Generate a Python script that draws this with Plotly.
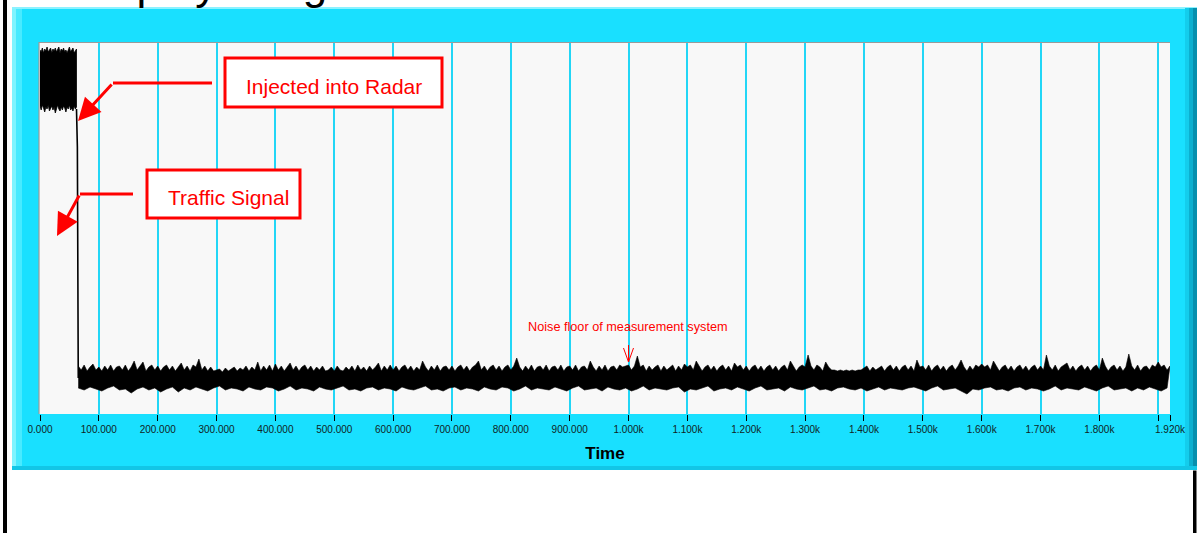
import numpy as np
import plotly.graph_objects as go

# ---------------- data ----------------
# Injected signal (time 0..62, step 2): upper / lower envelope of the burst
INJ_T_START, INJ_T_STEP = 0, 2
INJ_UPPER = [364, 362, 366, 361, 365, 363, 367, 362, 364, 366, 361, 365, 363, 366, 362, 364,
             367, 361, 365, 363, 366, 362, 364, 361, 365, 367, 362, 364, 366, 361, 363, 365]
INJ_LOWER = [308, 304, 309, 306, 302, 307, 305, 309, 303, 306, 308, 304, 307, 301, 306, 309,
             305, 303, 307, 304, 308, 306, 302, 307, 305, 309, 304, 306, 303, 308, 305, 307]

# Drop from injected level to the noise floor
TRANS_T = [62, 63.5, 65]
TRANS_Y = [305, 267, 36]

# Noise floor upper envelope (time 65..1920, step 5)
NOISE_UP_START, NOISE_UP_STEP = 65, 5
NOISE_UPPER = [
    48, 44, 49, 43, 47, 50, 44,
    47, 43, 48, 44, 49, 43, 47, 48, 44, 49, 43, 47, 53, 44, 48, 52, 43, 47, 49, 44,
    48, 43, 47, 49, 44, 48, 43, 47, 51, 44, 48, 43, 49, 47, 55, 44, 48, 43, 47, 43,
    44, 45, 42, 46, 43, 45, 47, 43, 46, 44, 48, 43, 47, 44, 52, 43, 48, 44, 49, 43,
    50, 44, 48, 43, 47, 51, 44, 48, 43, 47, 49, 44, 48, 43, 47, 44, 48, 43, 44, 47,
    43, 48, 44, 43, 47, 44, 48, 43, 49, 44, 47, 43, 48, 44, 47, 51, 43, 48, 44, 49,
    44, 48, 43, 47, 49, 44, 48, 43, 47, 44, 53, 47, 43, 48, 44, 49, 43, 47, 48, 44,
    48, 43, 47, 49, 44, 48, 43, 47, 49, 53, 44, 48, 43, 47, 49, 44, 48, 43, 47, 49,
    44, 48, 56, 47, 43, 48, 44, 49, 43, 47, 48, 44, 49, 43, 47, 48, 44, 49, 43, 47,
    48, 44, 49, 43, 47, 48, 44, 53, 47, 43, 48, 44, 49, 43, 47, 48, 44, 49, 47, 48,
    49, 44, 48, 58, 47, 49, 43, 48, 44, 47, 49, 43, 48, 44, 47, 49, 43, 48, 44, 50,
    47, 49, 44, 53, 48, 43, 47, 49, 44, 48, 43, 47, 49, 44, 48, 43, 51, 47, 49, 44,
    48, 43, 47, 49, 44, 48, 43, 47, 49, 44, 48, 43, 47, 49, 44, 53, 48, 43, 47, 49,
    47, 59, 48, 44, 49, 47, 43, 52, 47, 44, 44, 43, 44, 43, 44, 43, 44, 43, 44, 44,
    46, 48, 43, 47, 44, 46, 48, 43, 47, 49, 44, 48, 43, 47, 49, 44, 48, 43, 54, 47,
    48, 44, 49, 43, 47, 49, 44, 48, 43, 47, 49, 44, 48, 54, 47, 43, 48, 44, 49, 47,
    50, 47, 49, 44, 53, 48, 43, 47, 49, 44, 48, 43, 47, 49, 44, 48, 43, 47, 49, 44,
    48, 44, 59, 48, 44, 49, 43, 47, 49, 51, 44, 48, 43, 47, 49, 44, 48, 43, 47, 49,
    44, 56, 48, 43, 47, 49, 44, 48, 43, 47, 60, 48, 44, 49, 43, 47, 48, 44, 49, 47,
    52, 47, 49, 44, 48,
]

# Noise floor lower envelope (time 65..1915, step 10)
NOISE_LO_START, NOISE_LO_STEP = 65, 10
NOISE_LOWER = [
    26, 24, 27, 25, 23, 26, 28, 24, 25, 21,
    25, 27, 24, 26, 22, 25, 27, 22, 26, 24,
    27, 25, 23, 26, 28, 24, 26, 25, 23, 27,
    25, 24, 27, 26, 23, 25, 28, 24, 26, 25,
    23, 27, 25, 24, 26, 28, 24, 25, 23, 26,
    27, 24, 26, 25, 23, 27, 25, 24, 26, 28,
    24, 25, 23, 26, 27, 24, 26, 25, 23, 27,
    25, 24, 27, 26, 23, 25, 28, 24, 26, 25,
    24, 27, 25, 23, 26, 28, 24, 25, 26, 23,
    27, 25, 24, 26, 23, 25, 28, 24, 26, 25,
    24, 26, 27, 22, 25, 24, 26, 28, 23, 25,
    26, 24, 27, 25, 23, 26, 28, 24, 25, 26,
    23, 27, 25, 24, 26, 28, 24, 25, 23, 26,
    27, 25, 24, 26, 23, 25, 27, 24, 26, 25,
    24, 26, 27, 25, 23, 26, 28, 24, 25, 26,
    23, 20, 25, 24, 26, 27, 24, 25, 23, 26,
    27, 24, 26, 25, 23, 25, 28, 24, 26, 25,
    24, 27, 25, 23, 26, 28, 24, 25, 26, 23,
    26, 24, 27, 25, 23, 26,
]

X_MAX = 1920
Y_MAX = 371
GRID_TICKS = [100, 200, 300, 400, 500, 600, 700, 800, 900, 1000, 1100, 1200, 1300,
              1400, 1500, 1600, 1700, 1800, 1900]
GRID_LABELS = ["100.000", "200.000", "300.000", "400.000", "500.000", "600.000", "700.000",
               "800.000", "900.000", "1.000k", "1.100k", "1.200k", "1.300k", "1.400k",
               "1.500k", "1.600k", "1.700k", "1.800k", ""]
EDGE_TICKS = [0, 1920]
EDGE_LABELS = ["0.000", "1.920k"]

# ---------------- build ----------------
inj_t = INJ_T_START + INJ_T_STEP * np.arange(len(INJ_UPPER))
up_t = NOISE_UP_START + NOISE_UP_STEP * np.arange(len(NOISE_UPPER))
lo_t = NOISE_LO_START + NOISE_LO_STEP * np.arange(len(NOISE_LOWER))

W, H = 1197, 533
PL, PR, PT, PB = 40, 1170, 43, 414


def fx(px):
    return (px - PL) / (PR - PL)


def fy(py):
    return (PB - py) / (PB - PT)


fig = go.Figure()
fig.add_trace(go.Scatter(
    x=np.concatenate([inj_t, inj_t[::-1]]),
    y=np.concatenate([INJ_UPPER, INJ_LOWER[::-1]]),
    fill="toself", fillcolor="black", mode="lines",
    line=dict(color="black", width=0.8), showlegend=False, hoverinfo="skip"))
fig.add_trace(go.Scatter(
    x=TRANS_T, y=TRANS_Y, mode="lines",
    line=dict(color="black", width=1.6), showlegend=False, hoverinfo="skip"))
fig.add_trace(go.Scatter(
    x=np.concatenate([up_t, lo_t[::-1]]),
    y=np.concatenate([NOISE_UPPER, NOISE_LOWER[::-1]]),
    fill="toself", fillcolor="black", mode="lines",
    line=dict(color="black", width=0.6), showlegend=False, hoverinfo="skip"))
# invisible trace to activate second x axis (edge ticks)
fig.add_trace(go.Scatter(x=[0], y=[0], xaxis="x2", mode="markers",
                         marker=dict(opacity=0), showlegend=False, hoverinfo="skip"))

shapes = []


def rect(x0, y0, x1, y1, color, layer="below"):
    shapes.append(dict(type="rect", xref="paper", yref="paper", layer=layer,
                       x0=fx(x0), x1=fx(x1), y0=fy(y1), y1=fy(y0), fillcolor=color,
                       line=dict(width=0)))


# cyan frame
rect(12, 8, 1197, 470, "#19E0FF")
rect(12, 8, 16, 470, "#80F4FF")
rect(16, 8, 22, 470, "#48EAFF")
rect(12, 7, 1197, 9, "#8CF2FF")
rect(1185, 8, 1189, 470, "#14CDEC")
rect(1189, 8, 1193, 470, "#0CAFCF")
rect(1193, 8, 1197, 470, "#078FAD")
rect(12, 466, 1197, 470, "#12C6E6")
# plot area background
rect(39, 42, 1170, 414, "#F8F8F8")
shapes.append(dict(type="path", xref="paper", yref="paper", layer="below",
                   path=f"M {fx(39)},{fy(414)} L {fx(39)},{fy(42.5)} L {fx(1170)},{fy(42.5)}",
                   line=dict(color="#9A9A9A", width=1.2)))
# black page borders
rect(3, 0, 7, 533, "black", "above")
rect(1193, 470.5, 1196.5, 533, "black", "above")

RED = "#FF0000"
# callout boxes
for (x0, y0, x1, y1) in [(225, 58, 442, 107), (147, 170, 300, 218)]:
    shapes.append(dict(type="rect", xref="paper", yref="paper", layer="above",
                       x0=fx(x0), x1=fx(x1), y0=fy(y1), y1=fy(y0),
                       fillcolor="white", line=dict(color=RED, width=3)))
# horizontal arrow legs
for (x0, x1, yy) in [(212, 113, 83), (133, 80, 194)]:
    shapes.append(dict(type="line", xref="paper", yref="paper", layer="above",
                       x0=fx(x0), x1=fx(x1), y0=fy(yy), y1=fy(yy),
                       line=dict(color=RED, width=3)))
# noise-floor arrow (thin shaft with open V head)
shapes.append(dict(type="line", xref="paper", yref="paper", layer="above",
                   x0=fx(628.5), x1=fx(628.5), y0=fy(345), y1=fy(362),
                   line=dict(color=RED, width=1)))
shapes.append(dict(type="path", xref="paper", yref="paper", layer="above",
                   path=f"M {fx(623.5)},{fy(348)} L {fx(628.5)},{fy(362)} L {fx(633.5)},{fy(348)}",
                   line=dict(color=RED, width=1)))

annotations = []
FONT = "Arial, Liberation Sans, sans-serif"
annotations.append(dict(xref="paper", yref="paper", x=fx(334), y=fy(87), xanchor="center",
                        yanchor="middle", text="Injected into Radar", showarrow=False,
                        font=dict(family=FONT, size=21, color=RED)))
annotations.append(dict(xref="paper", yref="paper", x=fx(228), y=fy(198), xanchor="center",
                        yanchor="middle", text="Traffic Signal", showarrow=False,
                        font=dict(family=FONT, size=21, color=RED)))
annotations.append(dict(xref="paper", yref="paper", x=fx(628), y=fy(327), xanchor="center",
                        yanchor="middle", text="Noise floor of measurement system",
                        showarrow=False, font=dict(family=FONT, size=12.7, color=RED)))
# diagonal arrow legs with heads
for (tx, ty, ax, ay) in [(78, 121, 35, -38), (57, 236, 23, -42)]:
    annotations.append(dict(xref="paper", yref="paper", x=fx(tx), y=fy(ty), text="",
                            showarrow=True, ax=ax, ay=ay, arrowhead=2, arrowsize=1.5,
                            arrowwidth=3, arrowcolor=RED, standoff=0, startstandoff=0))
# partially visible page title above the frame (only descenders show)
annotations.append(dict(xref="paper", yref="paper", x=fx(71), y=fy(10), xanchor="left",
                        yanchor="bottom", text="Display Image", showarrow=False,
                        font=dict(family=FONT, size=44, color="black")))

fig.update_layout(
    width=W, height=H,
    margin=dict(l=PL, r=W - PR, t=PT, b=H - PB, pad=0),
    paper_bgcolor="white", plot_bgcolor="rgba(0,0,0,0)",
    shapes=shapes, annotations=annotations,
    xaxis=dict(range=[0, X_MAX], tickvals=GRID_TICKS, ticktext=GRID_LABELS,
               showgrid=True, gridcolor="#22D6F6", gridwidth=1.6, zeroline=False,
               showline=False, ticks="outside", ticklen=6, tickcolor="black", tickwidth=1,
               tickfont=dict(family=FONT, size=10, color="#102424"),
               title=dict(text="<b>Time</b>", font=dict(family=FONT, size=17, color="black"),
                          standoff=13),
               fixedrange=True),
    xaxis2=dict(range=[0, X_MAX], overlaying="x", side="bottom", tickvals=EDGE_TICKS,
                ticktext=EDGE_LABELS, showgrid=False, zeroline=False, showline=False,
                ticks="outside", ticklen=6, tickcolor="black", tickwidth=1,
                tickfont=dict(family=FONT, size=10, color="#102424")),
    yaxis=dict(range=[0, Y_MAX], showgrid=False, zeroline=False, showticklabels=False,
               showline=False, ticks=""),
)

fig.write_html("out.html", config={"displayModeBar": False},
               post_script="document.body.style.margin='0';"
               "document.body.style.overflow='hidden';")
